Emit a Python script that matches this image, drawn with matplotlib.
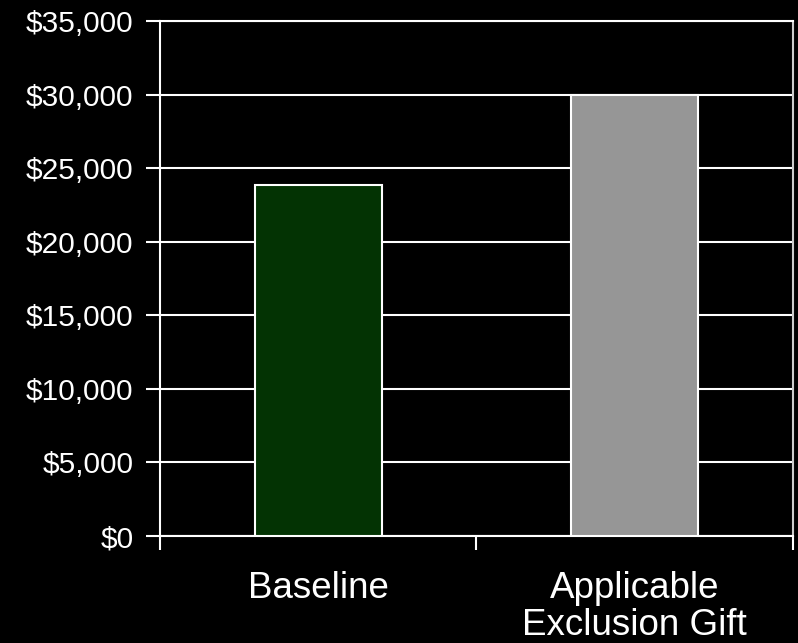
import matplotlib.pyplot as plt
from matplotlib.ticker import FuncFormatter

# Gift amounts compared
categories = ['Baseline', 'Applicable\nExclusion Gift']
amounts = [23850, 30000]
bar_colors = ['#033303', '#969696']
y_ticks = [0, 5000, 10000, 15000, 20000, 25000, 30000, 35000]

plt.rcParams['font.family'] = ['Liberation Sans', 'DejaVu Sans']

fig = plt.figure(figsize=(7.98, 6.43), dpi=100, facecolor='black')
ax = fig.add_axes([0.2005, 0.1664, 0.7932, 0.8009], facecolor='black')

x = range(len(categories))
ax.bar(x, amounts, width=0.4, color=bar_colors, edgecolor='white',
       linewidth=1.5, zorder=3)

ax.set_xlim(-0.5, 1.5)
ax.set_ylim(0, 35000)
ax.set_yticks(y_ticks)
ax.yaxis.set_major_formatter(FuncFormatter(lambda v, p: '${:,.0f}'.format(v)))
ax.grid(axis='y', color='white', linewidth=1.5, zorder=0)

# labels sit under the bars, tick marks go on the category boundaries
ax.set_xticks(list(x))
ax.set_xticklabels(categories, linespacing=1.08)
ax.set_xticks([-0.5, 0.5, 1.5], minor=True)
ax.tick_params(axis='x', which='major', length=0, pad=25, labelsize=26.5,
               colors='white')
ax.tick_params(axis='x', which='minor', length=10, width=1.5, direction='out',
               color='white')
ax.tick_params(axis='y', length=10, width=1.5, direction='out', pad=9,
               labelsize=21.5, colors='white')

for side in ['left', 'right', 'top', 'bottom']:
    ax.spines[side].set_color('white')
    ax.spines[side].set_linewidth(1.5)
ax.spines['right'].set_color('#cccccc')

fig.savefig('out.png', dpi=100, facecolor='black')
